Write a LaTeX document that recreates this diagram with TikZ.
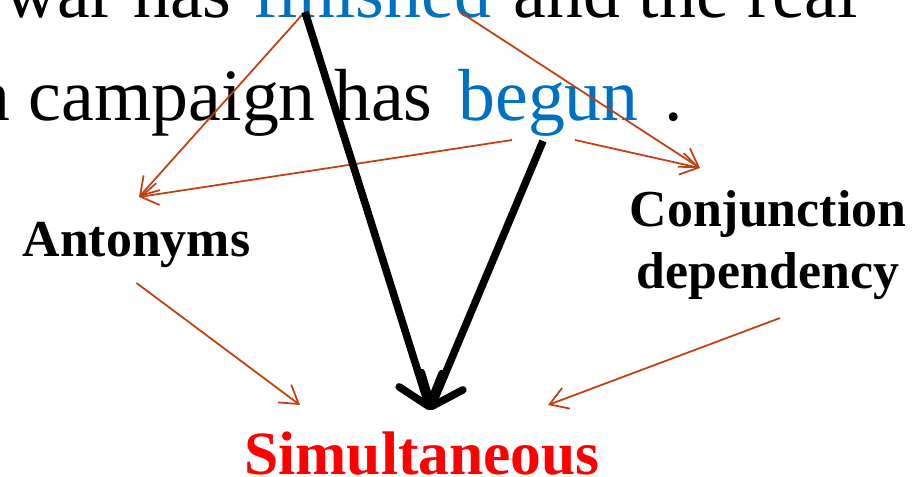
\documentclass[tikz,border=0pt]{standalone}
\usepackage{fontspec}
\setmainfont{Liberation Serif}
\usepackage{xcolor}
\usetikzlibrary{arrows.meta, positioning}
\definecolor{wordblue}{RGB}{0,112,192}
\definecolor{linkred}{RGB}{192,64,16}

\begin{document}
\begin{tikzpicture}[
    word/.style={inner sep=0pt, font=\fontsize{42}{50}\selectfont},
    cue/.style={inner sep=0pt, align=center, font=\fontsize{29.5}{35}\selectfont\bfseries},
    link/.style={linkred, line width=1pt, -{Straight Barb[length=3.5mm, width=4.4mm]}},
    mainarr/.style={black, line width=4.3pt, -{Straight Barb[round, length=5.5mm, width=9mm]}}
]
\useasboundingbox (0,0) rectangle (18.3,-9.52);
\clip (0,0) rectangle (18.3,-9.52);

% --- sentence ---
\node[word, text=wordblue, anchor=base west] (fin) at (5.06,-0.34) {finished};
\node[word, anchor=base east] (s1a) at ([xshift=-0.42cm]fin.base west) {war has};
\node[word, anchor=base west] (s1b) at ([xshift=0.44cm]fin.base east) {and the real};
\node[word, text=wordblue, anchor=base west] (beg) at (9.16,-2.40) {begun};
\node[word, anchor=base east] (s2a) at ([xshift=-0.5cm]beg.base west) {n campaign has};
\node[word, anchor=base west] (s2b) at ([xshift=0.5cm]beg.base east) {.};

% --- cues ---
\node[cue, anchor=base] (ant) at (2.73,-5.12) {Antonyms};
\node[cue, anchor=base] (con) at (15.36,-5.76) {Conjunction\\dependency};
\node[cue, anchor=base, text=red, font=\fontsize{35}{42}\selectfont\bfseries] (sim) at (8.44,-9.48) {Simultaneous};

\draw[link] ([shift={(0.98,0.04)}]fin.base west) -- ([shift={(0.05,1.18)}]ant.base);
\draw[link] ([shift={(1.08,-0.40)}]beg.base west) -- ([shift={(0.05,1.18)}]ant.base);
\draw[link] ([shift={(4.14,0.10)}]fin.base west) -- ([shift={(-1.36,2.40)}]con.base);
\draw[link] ([shift={(2.34,-0.40)}]beg.base west) -- ([shift={(-1.36,2.40)}]con.base);
\draw[link] ([yshift=-0.54cm]ant.base) -- ([shift={(-2.44,1.38)}]sim.base);
\draw[link] ([shift={(0.24,-0.60)}]con.base) -- ([shift={(2.52,1.38)}]sim.base);

% --- main relation ---
\draw[mainarr] ([shift={(1.04,0.10)}]fin.base west) -- ([shift={(0.16,1.28)}]sim.base);
\draw[mainarr] ([shift={(1.70,-0.42)}]beg.base west) -- ([shift={(0.16,1.28)}]sim.base);
\end{tikzpicture}
\end{document}
